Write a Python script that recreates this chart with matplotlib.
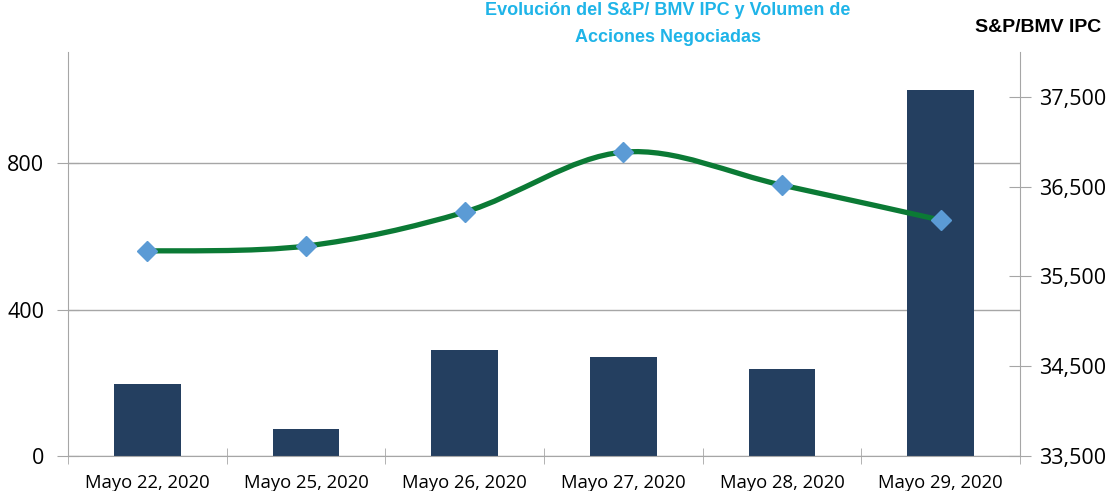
import matplotlib.pyplot as plt
import numpy as np
from matplotlib.path import Path
from matplotlib.patches import PathPatch
from matplotlib.ticker import FuncFormatter

# data
fechas = ['Mayo 22, 2020', 'Mayo 25, 2020', 'Mayo 26, 2020',
          'Mayo 27, 2020', 'Mayo 28, 2020', 'Mayo 29, 2020']
volumen = [197, 74, 290, 270, 238, 1000]
ipc = [35783, 35839, 36217, 36885, 36518, 36128]

vol_ticks = [0, 400, 800]
ipc_ticks = [33500, 34500, 35500, 36500, 37500]

gris = '#a6a6a6'
azul_barra = '#243f60'
verde = '#0b7a35'
azul_marca = '#5b9bd5'
tick_font = 'Open Sans'


def curva_suave(xs, ys):
    # bezier smoothing similar to the spreadsheet "smoothed line"
    pts = np.column_stack([xs, ys]).astype(float)
    n = len(pts)
    verts = [pts[0]]
    codes = [Path.MOVETO]
    for i in range(n - 1):
        p0 = pts[i - 1] if i > 0 else pts[i]
        p1 = pts[i]
        p2 = pts[i + 1]
        p3 = pts[i + 2] if i + 2 < n else pts[i + 1]
        c1 = p1 + (p2 - p0) / 6
        c2 = p2 - (p3 - p1) / 6
        verts += [c1, c2, p2]
        codes += [Path.CURVE4] * 3
    return Path(verts, codes)


fig = plt.figure(figsize=(11.13, 4.91), dpi=100)
ax = fig.add_axes([0.0611, 0.0713, 0.8553, 0.8227])
x = np.arange(len(fechas))

ax.bar(x, volumen, width=0.42, color=azul_barra, zorder=2)
ax.set_xlim(-0.5, len(fechas) - 0.5)
ax.set_ylim(0, 1103)
ax.set_yticks(vol_ticks)
ax.yaxis.grid(True, color=gris, linewidth=1.0, zorder=0)
ax.set_axisbelow(True)

ax.set_xticks(x)
ax.set_xticklabels(fechas, fontsize=13.3, family=tick_font)
ax.set_xticks(np.arange(len(fechas) + 1) - 0.5, minor=True)
ax.tick_params(axis='x', which='major', length=0, pad=13)
ax.tick_params(axis='x', which='minor', direction='inout', length=12,
               color=gris)
ax.tick_params(axis='y', direction='inout', length=16, color=gris,
               labelsize=15.5, pad=9)
for lab in ax.get_yticklabels():
    lab.set_family(tick_font)

for s in ['top', 'right']:
    ax.spines[s].set_visible(False)
for s in ['left', 'bottom']:
    ax.spines[s].set_color(gris)

ax2 = ax.twinx()
ax2.set_ylim(33500, 38000)
ax2.set_yticks(ipc_ticks)
ax2.yaxis.set_major_formatter(FuncFormatter(lambda v, p: f'{int(v):,}'))
ax2.tick_params(axis='y', direction='inout', length=16, color=gris,
                labelsize=15.5, pad=6)
for lab in ax2.get_yticklabels():
    lab.set_family(tick_font)
for s in ['top', 'left', 'bottom']:
    ax2.spines[s].set_visible(False)
ax2.spines['right'].set_color(gris)

ax2.add_patch(PathPatch(curva_suave(x, ipc), facecolor='none',
                        edgecolor=verde, linewidth=3.8, zorder=3))
ax2.plot(x, ipc, linestyle='none', marker='D', markersize=10,
         color=azul_marca, zorder=4)

fig.text(0.60, 0.995, 'Evolución del S&P/ BMV IPC y Volumen de\nAcciones Negociadas',
         ha='center', va='top', color='#1fb4e8', fontsize=13,
         fontweight='bold', family='Liberation Sans', linespacing=1.7)
fig.text(0.933, 0.945, 'S&P/BMV IPC', ha='center', va='center',
         fontsize=14, fontweight='bold', family='Liberation Sans')

fig.savefig('out.png', dpi=100)
